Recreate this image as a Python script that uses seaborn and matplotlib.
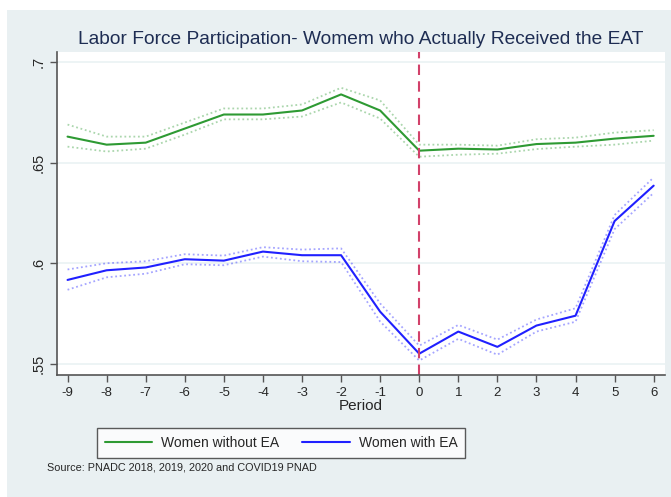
import numpy as np
import pandas as pd
import seaborn as sns
import matplotlib.pyplot as plt
from matplotlib.patches import Rectangle

period = [-9, -8, -7, -6, -5, -4, -3, -2, -1, 0, 1, 2, 3, 4, 5, 6]

# women without EA (point estimate and CI bounds)
no_ea = [.663, .659, .660, .667, .674, .674, .676, .684, .676, .656, .657, .6566, .6593, .660, .662, .6634]
no_ea_hi = [.669, .663, .663, .670, .677, .677, .679, .6873, .681, .659, .659, .6585, .6617, .6625, .665, .6662]
no_ea_lo = [.658, .6556, .657, .664, .6716, .6716, .673, .680, .672, .653, .654, .6545, .6568, .658, .659, .661]

# women with EA
with_ea = [.5917, .5965, .5979, .602, .6013, .6058, .604, .604, .5759, .555, .566, .5584, .569, .5739, .621, .6386]
with_ea_hi = [.5969, .600, .601, .6045, .6038, .608, .6068, .6074, .580, .559, .5693, .562, .572, .5776, .624, .6427]
with_ea_lo = [.5868, .593, .5948, .5995, .599, .6033, .601, .6006, .571, .5516, .5624, .5545, .566, .5709, .617, .635]

labels = ["Women without EA", "Women with EA"]
yticks = [.55, .6, .65, .7]
ytick_labels = [".55", ".6", ".65", ".7"]

GREEN = "#2e9a33"
BLUE = "#2020ff"
BG = "#e9f0f2"

sns.set_style("ticks")
plt.rcParams['font.family'] = ['Liberation Sans', 'DejaVu Sans']

fig = plt.figure(figsize=(6.71, 4.97), dpi=100)
fig.patch.set_facecolor("white")
fig.patches.append(Rectangle((7 / 671, 0), 1, 1 - 10 / 497, transform=fig.transFigure,
                             facecolor=BG, edgecolor="none", zorder=-10))
ax = fig.add_axes([57 / 671, 1 - 375 / 497, (665 - 57) / 671, (375 - 52) / 497])
ax.set_facecolor("white")

df = pd.DataFrame({"period": period * 2,
                   "est": no_ea + with_ea,
                   "hi": no_ea_hi + with_ea_hi,
                   "lo": no_ea_lo + with_ea_lo,
                   "group": [labels[0]] * len(period) + [labels[1]] * len(period)})
pal = {labels[0]: GREEN, labels[1]: BLUE}

for y in yticks:
    ax.axhline(y, color="#eaf2f3", linewidth=1.2, zorder=0)

for col in ["hi", "lo"]:
    sns.lineplot(data=df, x="period", y=col, hue="group", palette=pal, ax=ax,
                 linestyle=(0, (1, 1.5)), linewidth=1.3, alpha=0.4, legend=False)
sns.lineplot(data=df, x="period", y="est", hue="group", palette=pal, ax=ax,
             linewidth=1.5, legend=False)

ax.axvline(0, color="#d2416a", linestyle=(0, (5, 3)), linewidth=1.5)

ax.set_xlim(-9.27, 6.29)
ax.set_ylim(.5444, .7051)
ax.set_xticks(period)
ax.set_xticklabels([str(p) for p in period], fontsize=9.5)
ax.set_yticks(yticks)
ax.set_yticklabels(ytick_labels, rotation=90, va="center", fontsize=10.5)
ax.tick_params(axis="both", length=5, color="#555555", width=1)
ax.set_xlabel("Period", fontsize=11, labelpad=0)
ax.set_ylabel("")
sns.despine(ax=ax)
for s in ["left", "bottom"]:
    ax.spines[s].set_color("#555555")
    ax.spines[s].set_linewidth(1.2)

ax.set_title("Labor Force Participation- Womem who Actually Received the EAT",
             fontsize=13.8, color="#1e2d53", pad=6)

handles = [plt.Line2D([], [], color=GREEN, linewidth=1.5),
           plt.Line2D([], [], color=BLUE, linewidth=1.5)]
leg = fig.legend(handles, labels, ncol=2, loc="center", bbox_to_anchor=(281 / 671, 1 - 443 / 497),
                 frameon=True, fancybox=False, fontsize=10, handlelength=3.45, handletextpad=0.6,
                 columnspacing=1.7, borderpad=0.55, edgecolor="#333333")
leg.get_frame().set_linewidth(1)

fig.text(47 / 671, 1 - 467 / 497, "Source: PNADC 2018, 2019, 2020 and COVID19 PNAD",
         fontsize=7.8, va="center", ha="left")

fig.savefig("out.png", dpi=100, facecolor=fig.get_facecolor())
